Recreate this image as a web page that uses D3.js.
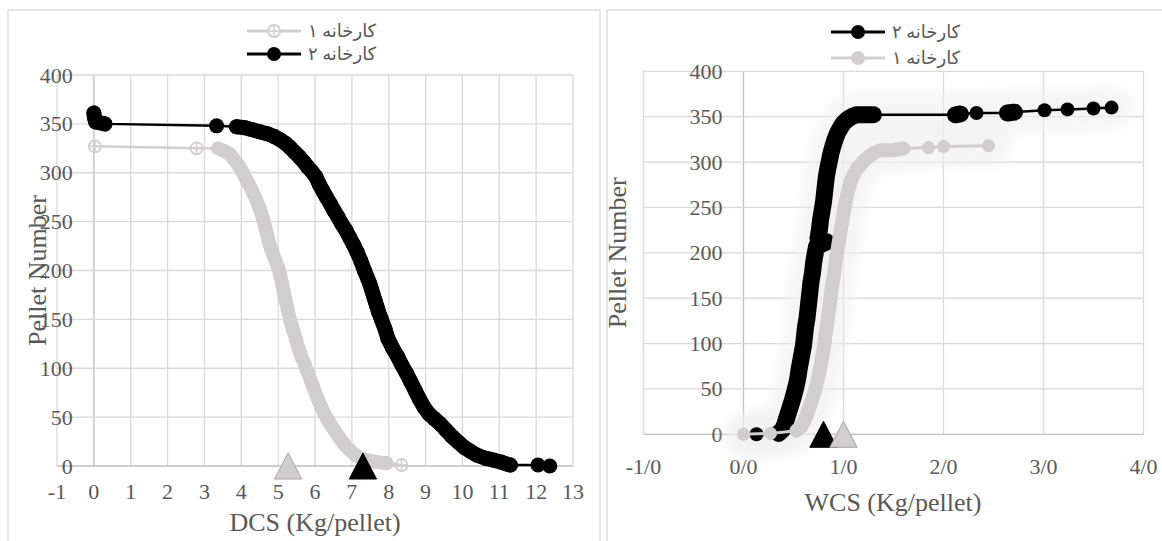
<!DOCTYPE html>
<html><head><meta charset="utf-8">
<script src="https://cdn.jsdelivr.net/npm/d3@7"></script>
<style>body{margin:0;background:#fff}svg{display:block}</style>
</head><body>
<svg id="c" width="1162" height="541"></svg>
<script>
// ---------- data ----------
const seriesNames = ["کارخانه ۱", "کارخانه ۲"];
const yTickValues = [0, 50, 100, 150, 200, 250, 300, 350, 400];
const yTickLabels = ["0","50","100","150","200","250","300","350","400"];
const dcsTickValues = [-1,0,1,2,3,4,5,6,7,8,9,10,11,12,13];
const dcsTickLabels = ["-1","0","1","2","3","4","5","6","7","8","9","10","11","12","13"];
const wcsTickValues = [-1,0,1,2,3,4];
const wcsTickLabels = ["-1/0","0/0","1/0","2/0","3/0","4/0"];

// DCS, factory 1 (grey)
const dcsF1 = [0.03,2.79,3.37,3.55,3.69,3.80,3.90,3.98,4.06,4.14,4.22,4.30,4.38,4.45,4.52,4.58,4.63,4.68,4.73,4.79,4.86,4.93,5.00,5.05,5.10,5.15,5.20,5.26,5.32,5.40,5.48,5.56,5.64,5.72,5.80,5.88,5.97,6.06,6.15,6.26,6.38,6.52,6.66,6.80,6.95,7.10,7.25,7.40,7.67,7.94,8.35];
const dcsN1 = [327,325,325,322,319,314,309,304,299,293,287,281,275,268,261,254,247,240,232,224,217,210,203,196,188,179,170,160,150,140,130,120,111,104,96,88,79,70,62,53,45,37,29,22,16,11,8,6,4,3,1];
// DCS, factory 2 (black)
const dcsF2 = [0.00,0.02,0.05,0.30,3.33,3.87,4.10,4.30,4.50,4.70,4.90,5.05,5.20,5.32,5.45,5.58,5.70,5.80,5.92,6.02,6.12,6.22,6.31,6.42,6.52,6.62,6.72,6.84,6.95,7.05,7.14,7.24,7.34,7.44,7.49,7.54,7.58,7.63,7.68,7.72,7.80,7.90,7.98,8.10,8.24,8.36,8.48,8.60,8.72,8.84,8.96,9.10,9.25,9.40,9.55,9.72,9.90,10.05,10.22,10.40,10.62,10.85,11.05,11.20,11.30,12.05,12.37];
const dcsN2 = [361,356,352,350,348,347,346,344,342,340,337,334,330,326,321,316,311,306,301,296,288,281,275,268,261,255,248,241,233,226,219,210,200,191,186,180,175,169,163,158,150,140,130,121,112,103,95,86,77,68,60,53,48,43,37,30,24,19,15,11,8,6,4,2,1,1,0];
const dcsMeans = [5.27, 7.30];   // factory 1, factory 2

// WCS, factory 1 (grey)
const wcsF1 = [0.00,0.27,0.53,0.58,0.61,0.635,0.66,0.685,0.71,0.73,0.75,0.765,0.78,0.795,0.81,0.82,0.835,0.845,0.86,0.87,0.88,0.895,0.91,0.92,0.935,0.95,0.965,0.98,0.995,1.01,1.03,1.05,1.075,1.10,1.13,1.17,1.21,1.25,1.30,1.37,1.50,1.60,1.85,2.00,2.45];
const wcsN1 = [0,1,4,9,15,22,30,38,46,55,63,72,81,90,100,110,120,130,140,150,160,170,180,190,200,210,220,230,240,250,260,270,279,286,292,297,302,306,310,313,313,315,316,317,318];
// WCS, factory 2 (black)
const wcsF2 = [0.13,0.35,0.39,0.41,0.43,0.45,0.47,0.49,0.51,0.53,0.545,0.555,0.57,0.585,0.60,0.61,0.62,0.635,0.645,0.655,0.665,0.675,0.69,0.70,0.715,0.73,0.83,0.745,0.76,0.77,0.785,0.80,0.81,0.82,0.83,0.845,0.86,0.875,0.895,0.915,0.94,0.97,1.00,1.04,1.08,1.13,1.22,1.30,2.12,2.17,2.33,2.64,2.71,3.01,3.24,3.50,3.68];
const wcsN2 = [0,1,5,10,17,24,31,38,46,55,63,71,80,89,98,108,118,128,138,148,158,168,178,188,198,207,212,216,226,236,246,256,266,276,285,294,302,310,318,325,332,338,343,347,350,352,352,352,352,353,354,354,355,357,358,359,360];
const wcsMeans = [1.00, 0.80];   // factory 1, factory 2

// ---------- styles ----------
const GREY = "#d0cece", BLACK = "#000";
const FONT = "'Liberation Serif','Times New Roman',serif";
const LFONT = "'Liberation Serif','Times New Roman','DejaVu Sans',serif";
const TXT = "#595959";

const svg = d3.select("#c");
const defs = svg.append("defs");
defs.append("filter").attr("id","glow").attr("x","-20%").attr("y","-20%").attr("width","140%").attr("height","140%")
  .append("feGaussianBlur").attr("stdDeviation", 6);

// chart frames
svg.append("rect").attr("x",8).attr("y",10).attr("width",592).attr("height",545)
  .attr("fill","none").attr("stroke","#d9d9d9").attr("stroke-width",1.3);
svg.append("rect").attr("x",607).attr("y",10).attr("width",600).attr("height",545)
  .attr("fill","none").attr("stroke","#d9d9d9").attr("stroke-width",1.3);

const triType = { draw(ctx, size){ const h = size, w = h*1.05; ctx.moveTo(0,-h/2); ctx.lineTo(w/2,h/2); ctx.lineTo(-w/2,h/2); ctx.closePath(); } };

function drawGlow(g, pts, s) {
  if (!s.glow) return;
  g.append("path").attr("d", d3.line()(pts)).attr("fill","none")
    .attr("stroke","#eeeeee").attr("stroke-width",44).attr("stroke-linejoin","round").attr("stroke-linecap","round")
    .attr("opacity",0.55).attr("filter","url(#glow)");
}
function drawSeriesMarks(g, pts, s) {
  g.append("path").attr("d", d3.line()(pts)).attr("fill","none")
    .attr("stroke", s.color).attr("stroke-width", s.lw).attr("stroke-linejoin","round");
  // dense overlap of markers -> continuous band
  let band = "";
  for (let i=1;i<pts.length;i++){
    const dx = pts[i][0]-pts[i-1][0], dy = pts[i][1]-pts[i-1][1];
    if (Math.hypot(dx,dy) < s.thr) band += `M${pts[i-1][0]},${pts[i-1][1]}L${pts[i][0]},${pts[i][1]}`;
  }
  if (band) g.append("path").attr("d", band).attr("fill","none").attr("stroke", s.color)
    .attr("stroke-width", s.bandW).attr("stroke-linecap","round").attr("stroke-linejoin","round");
  const m = g.append("g").selectAll("g").data(pts).join("g").attr("transform", d=>`translate(${d[0]},${d[1]})`);
  if (s.marker === "cross") {
    m.append("circle").attr("r", s.r).attr("fill","none").attr("stroke", s.color).attr("stroke-width",1.8);
    m.append("path").attr("d", `M${-s.r},0H${s.r}M0,${-s.r}V${s.r}`).attr("stroke", s.color).attr("stroke-width",1.5);
  } else {
    m.append("circle").attr("r", s.r).attr("fill", s.color);
  }
}

function legendMarker(g, cx, cy, s) {
  g.append("line").attr("x1",cx-27).attr("x2",cx+27).attr("y1",cy).attr("y2",cy).attr("stroke",s.color).attr("stroke-width",3);
  if (s.marker === "cross") {
    g.append("circle").attr("cx",cx).attr("cy",cy).attr("r",6).attr("fill","#fff").attr("stroke",s.color).attr("stroke-width",1.8);
    g.append("path").attr("d",`M${cx-6},${cy}H${cx+6}M${cx},${cy-6}V${cy+6}`).attr("stroke",s.color).attr("stroke-width",1.5);
  } else {
    g.append("circle").attr("cx",cx).attr("cy",cy).attr("r",7).attr("fill",s.color);
  }
}

function drawPanel(o) {
  const g = svg.append("g");
  const x = d3.scaleLinear().domain([o.xTicks[0], o.xTicks[o.xTicks.length-1]]).range(o.xRange);
  const y = d3.scaleLinear().domain([0, 400]).range(o.yRange);
  // grid
  g.selectAll(".vg").data(o.xTicks).join("line")
    .attr("x1", d=>x(d)).attr("x2", d=>x(d)).attr("y1", y(400)).attr("y2", y(0))
    .attr("stroke", d=> d===0 ? "#bfbfbf" : "#d9d9d9").attr("stroke-width", 1.3);
  g.selectAll(".hg").data(yTickValues).join("line")
    .attr("x1", x.range()[0]).attr("x2", x.range()[1]).attr("y1", d=>y(d)).attr("y2", d=>y(d))
    .attr("stroke", d=> d===0 ? "#bfbfbf" : "#d9d9d9").attr("stroke-width", 1.3);
  // tick labels
  g.selectAll(".xl").data(o.xTicks).join("text")
    .attr("x", d=>x(d)).attr("y", o.xLabelY).attr("text-anchor","middle").attr("dominant-baseline","central")
    .attr("font-family", FONT).attr("font-size", 22).attr("fill", TXT).text((d,i)=>o.xLabels[i]);
  g.selectAll(".yl").data(yTickValues).join("text")
    .attr("x", x(0)-21).attr("y", d=>y(d)).attr("text-anchor","end").attr("dominant-baseline","central")
    .attr("font-family", FONT).attr("font-size", 22).attr("fill", TXT).text((d,i)=>yTickLabels[i]);
  // titles
  g.append("text").attr("x", o.titleX).attr("y", o.titleY).attr("text-anchor","middle").attr("dominant-baseline","central")
    .attr("font-family", FONT).attr("font-size", 26).attr("fill", TXT).text(o.xTitle);
  g.append("text").attr("transform", `translate(${o.yTitleX},${(y(0)+y(400))/2}) rotate(-90)`)
    .attr("text-anchor","middle").attr("dominant-baseline","central")
    .attr("font-family", FONT).attr("font-size", 26).attr("fill", TXT).text("Pellet Number");
  // series
  const allPts = o.series.map(s => s.xs.map((v,i)=>[x(v), y(s.ys[i])]));
  o.series.forEach((s,i) => drawGlow(g, allPts[i], s));
  o.series.forEach((s,i) => drawSeriesMarks(g, allPts[i], s));
  // mean triangles
  o.means.forEach(m => {
    g.append("path").attr("d", d3.symbol().type(triType).size(26)())
      .attr("transform", `translate(${x(m.v)},${y(0)})`)
      .attr("fill", m.color).attr("stroke", m.color===GREY ? "#a6a6a6" : "#000").attr("stroke-width", 1);
  });
  // legend
  o.legend.forEach((s,i) => {
    const cy = o.legendY[i];
    legendMarker(g, o.legendX, cy, s);
    g.append("text").attr("x", o.legendX + 34).attr("y", cy).attr("dominant-baseline","central")
      .attr("font-family", LFONT).attr("font-size", 18).attr("fill", TXT).text(s.name);
  });
}

const sL1 = {name: seriesNames[0], xs: dcsF1, ys: dcsN1, color: GREY, r: 6, marker: "cross", lw: 2.5, thr: 11, bandW: 13.8};
const sL2 = {name: seriesNames[1], xs: dcsF2, ys: dcsN2, color: BLACK, r: 7.5, marker: "dot", lw: 2.5, thr: 11, bandW: 15};
drawPanel({
  xTicks: dcsTickValues, xLabels: dcsTickLabels, xRange: [57, 573], yRange: [466, 75],
  xLabelY: 491, xTitle: "DCS (Kg/pellet)", titleX: 315, titleY: 522, yTitleX: 37,
  series: [sL1, sL2],
  means: [{v: dcsMeans[0], color: GREY}, {v: dcsMeans[1], color: BLACK}],
  legend: [sL1, sL2], legendX: 274, legendY: [31, 54]
});

const sR1 = {name: seriesNames[0], xs: wcsF1, ys: wcsN1, color: GREY, r: 6.5, marker: "dot", lw: 3, glow: true, thr: 14, bandW: 14};
const sR2 = {name: seriesNames[1], xs: wcsF2, ys: wcsN2, color: BLACK, r: 7, marker: "dot", lw: 2.5, glow: true, thr: 14, bandW: 17};
drawPanel({
  xTicks: wcsTickValues, xLabels: wcsTickLabels, xRange: [643.5, 1143.5], yRange: [434.3, 71.3],
  xLabelY: 466, xTitle: "WCS (Kg/pellet)", titleX: 893, titleY: 502, yTitleX: 617,
  series: [sR2, sR1],
  means: [{v: wcsMeans[1], color: BLACK}, {v: wcsMeans[0], color: GREY}],
  legend: [sR2, sR1], legendX: 858, legendY: [32, 58]
});
</script>
</body></html>
